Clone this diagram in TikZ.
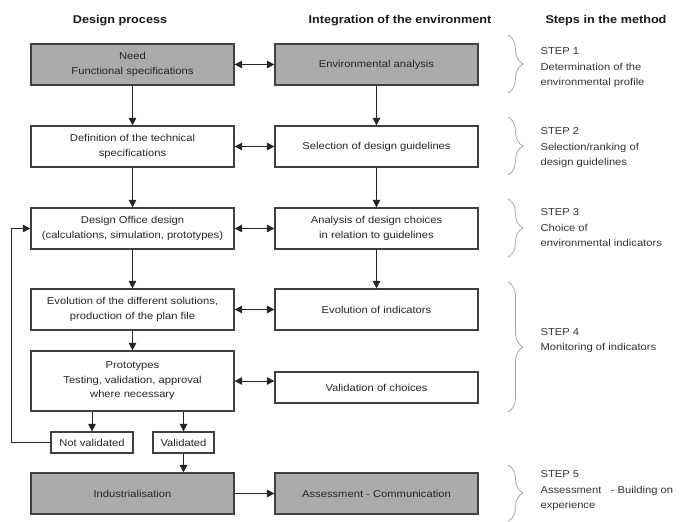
\documentclass[tikz,border=0pt]{standalone}
\usepackage{fontspec}
\setmainfont{Liberation Sans}[FakeStretch=1.12]
\usetikzlibrary{arrows.meta,decorations.pathreplacing}

\begin{document}
\begin{tikzpicture}[
  x=1pt,y=-1pt,
  >={Triangle[length=7.5pt,width=7.5pt]},
  font=\fontsize{10}{14.5}\selectfont,
  box/.style={
  	draw=black!75,
  	line width=1.2pt,
  	fill=white,
  	text=black!85,
  	align=center,
  	minimum width=203pt,
  	minimum height=41pt,
  	inner sep=1pt
  },
  grey/.style={
  	box,
  	fill=black!33
  },
  tag/.style={
  	box,
  	minimum height=21pt
  },
  flow/.style={
  	->,
  	line width=1pt,
  	draw=black!85
  },
  head/.style={
  	font=\bfseries\fontsize{11.3}{13}\selectfont,
  	text=black!90
  },
  stepbrace/.style={
  	draw=black!35,
  	line width=0.8pt,
  	decorate,
  	decoration={brace,amplitude=15pt}
  },
  steptext/.style={
  	anchor=west,
  	align=left,
  	text=black!80,
  	font=\fontsize{10}{15.5}\selectfont
  }
  ]
  \useasboundingbox (0,0) rectangle (683,522);

  \node[head] (hdesign) at (120,21) {Design process};
  \node[head] (henv) at (400,21) {Integration of the environment};
  \node[head] (hsteps) at (606,21) {Steps in the method};

  \node[grey] (need) at (132.5,64.5) {Need\\Functional specifications};
  \node[grey] (env) at (376.5,64.5) {Environmental analysis};
  \node[box] (def) at (132.5,146.5) {Definition of the technical\\specifications};
  \node[box] (sel) at (376.5,146.5) {Selection of design guidelines};
  \node[box] (office) at (132.5,228.5) {Design Office design\\(calculations, simulation, prototypes)};
  \node[box] (anal) at (376.5,228.5) {Analysis of design choices\\in relation to guidelines};
  \node[box] (evol) at (132.5,309.5) {Evolution of the different solutions,\\production of the plan file};
  \node[box] (evind) at (376.5,309.5) {Evolution of indicators};
  \node[box,minimum height=60pt] (proto) at (132.5,381) {Prototypes\\Testing, validation, approval\\where necessary};
  \node[box,minimum height=31pt] (valid) at (376.5,387.5) {Validation of choices};
  \node[tag,minimum width=82pt] (notval) at (92,442.5) {Not validated};
  \node[tag,minimum width=61pt] (yesval) at (183.5,442.5) {Validated};
  \node[grey] (indus) at (132.5,493.5) {Industrialisation};
  \node[grey] (assess) at (376.5,493.5) {Assessment - Communication};
  \coordinate (loop) at (11,0);

  \foreach \i/\a/\b/\c/\t in {1/35/93/68/{STEP 1\\Determination of the\\environmental profile},
    2/117/175/148/{STEP 2\\Selection/ranking of\\design guidelines},
    3/199/257/228/{STEP 3\\Choice of\\environmental indicators},
    4/282/412/340.5/{STEP 4\\Monitoring of indicators},
    5/465/521/491/{STEP 5\\Assessment \ \ - Building on\\experience}}
  {
    \draw[stepbrace] (508,\a) -- (508,\b);
    \node[steptext] (step\i) at (537,\c) {\t};
  }

  \foreach \a/\b in {need/env,def/sel,office/anal,evol/evind}
  \draw[flow,<->] (\a) -- (\b);
  \draw[flow,<->] (proto.east) -- (proto.east -| valid.west);

  \foreach \a/\b in {need/def,def/office,office/evol,evol/proto,env/sel,sel/anal,anal/evind}
  \draw[flow] (\a) -- (\b);
  \draw[flow] (notval.north |- proto.south) -- (notval.north);
  \draw[flow] (yesval.north |- proto.south) -- (yesval.north);
  \draw[flow] (yesval) -- (yesval |- indus.north);
  \draw[flow] (indus) -- (assess);
  \draw[flow] (notval.west) -- (notval.west -| loop) |- (office.west);

\end{tikzpicture}
\end{document}
